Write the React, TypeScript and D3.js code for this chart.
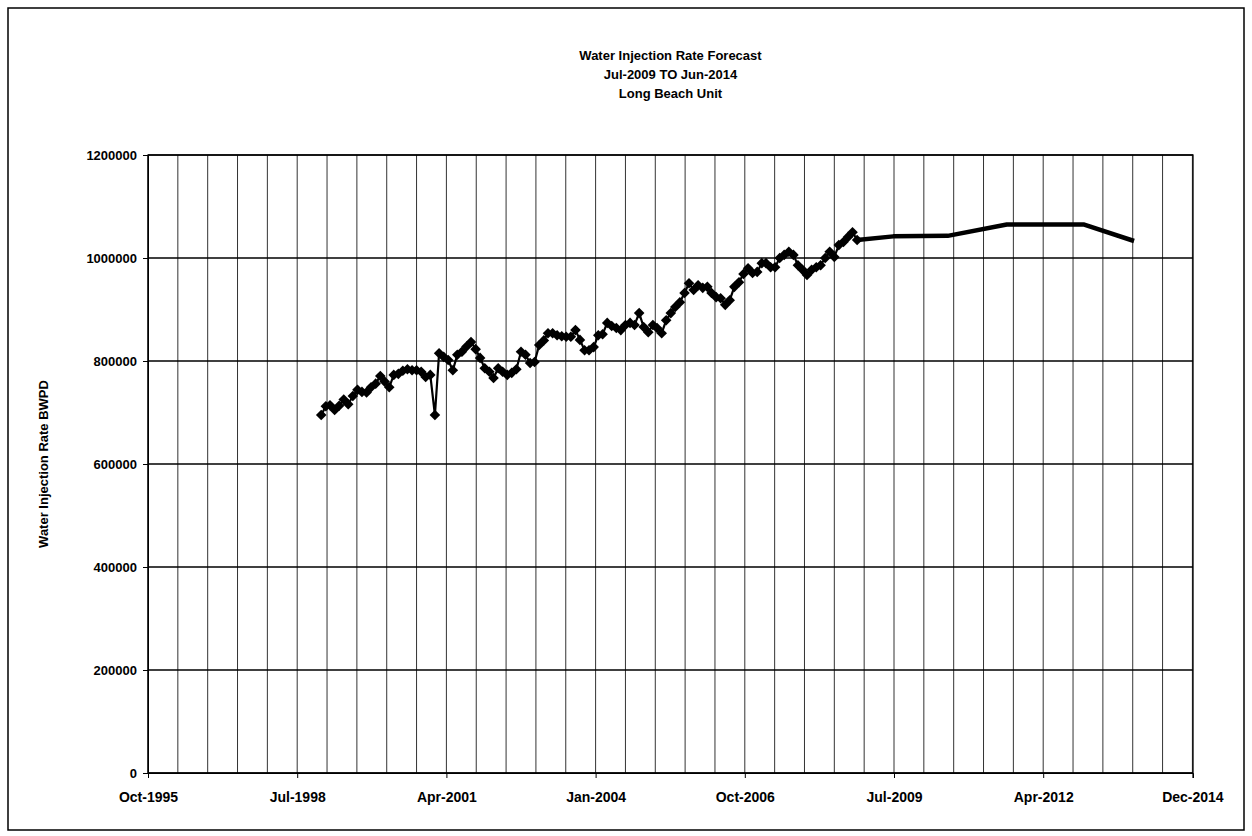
import React, { useRef, useEffect } from 'react';
import * as d3 from 'd3';

// historical monthly injection rate, starting Jan-1999 (BWPD)
const histStart = '1999-01-01';
const histValues = [
  695000, 712000, 714000, 705000, 713000, 725000, 716000, 732000, 744000, 740000,
  739000, 749000, 756000, 771000, 760000, 749000, 773000, 775000, 781000, 784000,
  782000, 782000, 779000, 769000, 773000, 695000, 815000, 808000, 802000, 782000,
  812000, 818000, 828000, 837000, 823000, 806000, 786000, 779000, 767000, 786000,
  779000, 773000, 777000, 784000, 818000, 812000, 796000, 798000, 831000, 840000,
  854000, 854000, 850000, 848000, 847000, 847000, 860000, 841000, 821000, 821000,
  827000, 850000, 852000, 874000, 868000, 864000, 860000, 870000, 874000, 870000,
  893000, 866000, 856000, 870000, 864000, 854000, 879000, 893000, 905000, 914000,
  932000, 951000, 938000, 947000, 942000, 944000, 932000, 924000, 922000, 909000,
  918000, 944000, 953000, 969000, 980000, 971000, 973000, 990000, 990000, 982000,
  982000, 1000000, 1006000, 1012000, 1006000, 986000, 977000, 967000, 977000, 982000,
  986000, 1000000, 1012000, 1002000, 1025000, 1031000, 1041000, 1050000, 1035000,
];

// forecast line
const forecastDates = ['2008-11-01', '2009-07-01', '2010-07-01', '2011-08-01', '2013-01-01', '2013-12-01'];
const forecastValues = [1035000, 1042000, 1043000, 1065000, 1065000, 1033000];

const yTicks = [0, 200000, 400000, 600000, 800000, 1000000, 1200000];
const titleLines = ['Water Injection Rate Forecast', 'Jul-2009 TO Jun-2014', 'Long Beach Unit'];
const yTitle = 'Water Injection Rate BWPD';

// axis runs on excel serial days 35000..42000, major 1000, minor 200
const xMinDate = '1995-10-28';
const xMaxDate = '2014-12-31';
const majorDays = 1000;
const minorDays = 200;

const FONT = '"Liberation Sans", Arial, sans-serif';

const WaterInjectionChart = () => {
  const chartRef = useRef(null);

  useEffect(() => {
    const container = d3.select(chartRef.current);
    container.select('svg').remove();

    const width = 1252;
    const height = 836;
    const margin = { left: 148, right: 59, top: 155, bottom: 63 };

    const svg = container
      .append('svg')
      .attr('width', width)
      .attr('height', height)
      .style('position', 'absolute')
      .style('left', 0)
      .style('top', 0)
      .style('background', '#fff');

    // outer frame
    svg.append('rect')
      .attr('x', 8).attr('y', 8)
      .attr('width', width - 16).attr('height', height - 14)
      .attr('fill', 'none').attr('stroke', '#000').attr('stroke-width', 1.5);

    const x0 = new Date(xMinDate + 'T00:00:00Z');
    const x1 = new Date(xMaxDate + 'T00:00:00Z');
    const xScale = d3.scaleUtc()
      .domain([x0, x1])
      .range([margin.left, width - margin.right]);

    const yScale = d3.scaleLinear()
      .domain([0, 1200000])
      .range([height - margin.bottom, margin.top]);

    const minorTicks = d3.range(0, 7000 + 1, minorDays).map((d) => d3.utcDay.offset(x0, d));
    const majorTicks = d3.range(0, 7000 + 1, majorDays).map((d) => d3.utcDay.offset(x0, d));

    // vertical gridlines
    svg.append('g')
      .selectAll('line')
      .data(minorTicks)
      .enter()
      .append('line')
      .attr('x1', (d) => xScale(d)).attr('x2', (d) => xScale(d))
      .attr('y1', margin.top).attr('y2', height - margin.bottom)
      .attr('stroke', '#333').attr('stroke-width', 1);

    // horizontal gridlines
    svg.append('g')
      .selectAll('line')
      .data(yTicks)
      .enter()
      .append('line')
      .attr('x1', margin.left).attr('x2', width - margin.right)
      .attr('y1', (d) => yScale(d)).attr('y2', (d) => yScale(d))
      .attr('stroke', '#000').attr('stroke-width', 1.3);

    // plot border
    svg.append('rect')
      .attr('x', margin.left).attr('y', margin.top)
      .attr('width', width - margin.left - margin.right)
      .attr('height', height - margin.top - margin.bottom)
      .attr('fill', 'none').attr('stroke', '#000').attr('stroke-width', 1.3);

    // y axis
    const yAxis = svg.append('g')
      .attr('transform', `translate(${margin.left},0)`)
      .call(d3.axisLeft(yScale).tickValues(yTicks).tickSize(5).tickPadding(6).tickFormat(d3.format('d')));
    yAxis.select('.domain').attr('stroke', '#000');
    yAxis.selectAll('text')
      .attr('font-family', FONT).attr('font-size', 13).attr('font-weight', 'bold').attr('fill', '#000');

    // x axis
    const fmt = d3.utcFormat('%b-%Y');
    const xAxis = svg.append('g')
      .attr('transform', `translate(0,${height - margin.bottom})`)
      .call(d3.axisBottom(xScale).tickValues(majorTicks).tickSize(5).tickPadding(14).tickFormat((d) => fmt(d)));
    xAxis.select('.domain').attr('stroke', '#000');
    xAxis.selectAll('text')
      .attr('font-family', FONT).attr('font-size', 14).attr('font-weight', 'bold').attr('fill', '#000');

    // historical series
    const hist = histValues.map((v, i) => ({
      date: d3.utcMonth.offset(new Date(histStart + 'T00:00:00Z'), i),
      value: v,
    }));
    const line = d3.line()
      .x((d) => xScale(d.date))
      .y((d) => yScale(d.value));

    svg.append('path')
      .datum(hist)
      .attr('d', line)
      .attr('fill', 'none').attr('stroke', '#000').attr('stroke-width', 2.2);

    const diamond = d3.symbol().type(d3.symbolSquare).size(56);
    svg.append('g')
      .selectAll('path')
      .data(hist)
      .enter()
      .append('path')
      .attr('d', diamond)
      .attr('transform', (d) => `translate(${xScale(d.date)},${yScale(d.value)}) rotate(45)`)
      .attr('fill', '#000');

    // forecast series
    const forecast = forecastDates.map((d, i) => ({
      date: new Date(d + 'T00:00:00Z'),
      value: forecastValues[i],
    }));
    svg.append('path')
      .datum(forecast)
      .attr('d', line)
      .attr('fill', 'none').attr('stroke', '#000').attr('stroke-width', 4.5)
      .attr('stroke-linejoin', 'round');

    // titles
    const cx = (margin.left + width - margin.right) / 2;
    svg.append('g')
      .selectAll('text')
      .data(titleLines)
      .enter()
      .append('text')
      .attr('x', cx)
      .attr('y', (d, i) => 60 + i * 19)
      .attr('text-anchor', 'middle')
      .attr('font-family', FONT).attr('font-size', 13).attr('font-weight', 'bold')
      .text((d) => d);

    svg.append('text')
      .attr('transform', `translate(48,${(margin.top + height - margin.bottom) / 2}) rotate(-90)`)
      .attr('text-anchor', 'middle')
      .attr('font-family', FONT).attr('font-size', 13).attr('font-weight', 'bold')
      .text(yTitle);
  }, []);

  return <div ref={chartRef}></div>;
};

export default function App() {
  return <WaterInjectionChart />;
}
